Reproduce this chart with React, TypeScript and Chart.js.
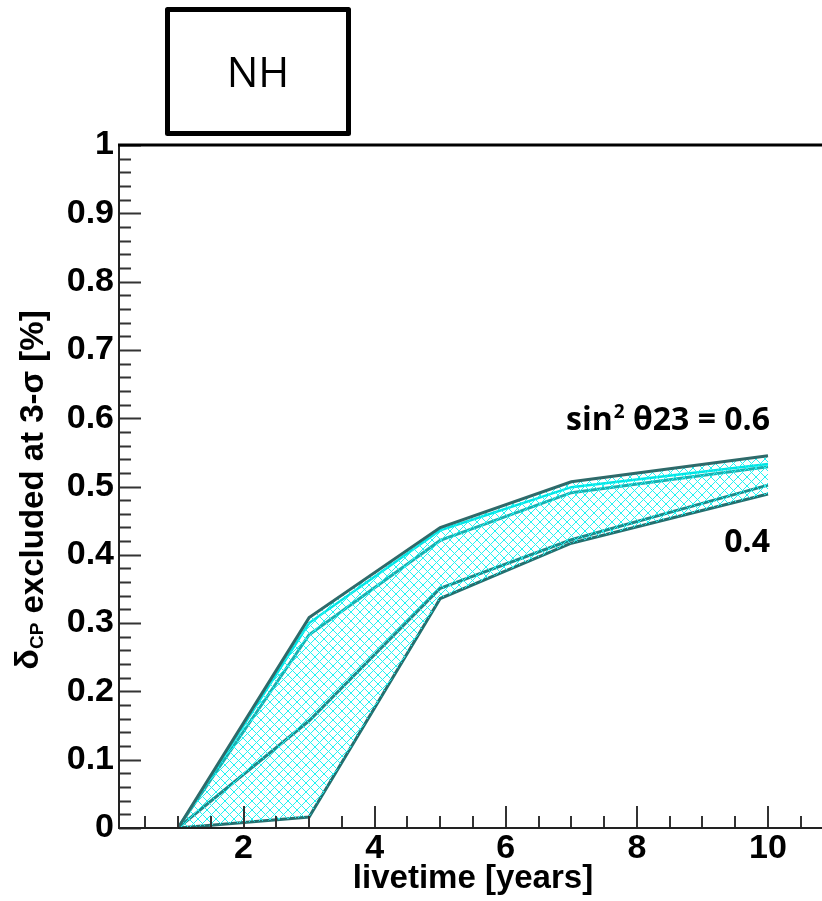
import React, { useEffect, useRef } from 'react';
import { Chart, registerables } from 'chart.js';

Chart.register(...registerables);

// ---- data ----
const livetime = [1, 3, 5, 7, 10];
const upperOuter = [0, 0.308, 0.44, 0.507, 0.545];
const upperBright = [0, 0.300, 0.436, 0.499, 0.533];
const upperInner = [0, 0.283, 0.421, 0.491, 0.529];
const lowerInner = [0, 0.157, 0.351, 0.422, 0.502];
const lowerOuter = [0, 0.016, 0.336, 0.417, 0.489];

const xTickValues = [2, 4, 6, 8, 10];
const yTickValues = [0, 0.1, 0.2, 0.3, 0.4, 0.5, 0.6, 0.7, 0.8, 0.9, 1];
const xTitle = 'livetime [years]';
const yTitleMain = 'δ';
const yTitleSub = 'CP';
const yTitleRest = ' excluded at 3-σ [%]';
const boxLabel = 'NH';
const upperLabelA = 'sin';
const upperLabelSup = '2';
const upperLabelB = ' θ23 = 0.6';
const lowerLabel = '0.4';

const AXIS_FONT = "'Liberation Sans', Arial, sans-serif";
const LABEL_FONT = "'Open Sans', 'Noto Sans', sans-serif";

function pts(arr: number[]) {
  return livetime.map((x, i) => ({ x, y: arr[i] }));
}

const decorPlugin = {
  id: 'decor',
  afterDraw(chart: any) {
    const { ctx, chartArea, scales } = chart;
    const xs = scales.x;
    const ys = scales.y;
    const L = chartArea.left;
    const B = chartArea.bottom;
    const T = chartArea.top;
    ctx.save();

    // ticks
    ctx.strokeStyle = '#333';
    ctx.lineWidth = 2;
    ctx.beginPath();
    for (let i = 0; i <= 50; i++) {
      const v = i / 50;
      const py = Math.round(ys.getPixelForValue(v)) + 0.5;
      const len = i % 5 === 0 ? 22 : 12;
      ctx.moveTo(L, py);
      ctx.lineTo(L + len, py);
    }
    for (let i = 1; i <= 21; i++) {
      const v = i * 0.5;
      const px = Math.round(xs.getPixelForValue(v));
      const len = i % 4 === 0 ? 22 : 12;
      ctx.moveTo(px, B);
      ctx.lineTo(px, B - len);
    }
    ctx.stroke();

    // axis lines
    ctx.strokeStyle = '#222';
    ctx.lineWidth = 2;
    ctx.beginPath();
    ctx.moveTo(L, T);
    ctx.lineTo(L, B);
    ctx.lineTo(chart.width, B);
    ctx.stroke();
    ctx.strokeStyle = '#000';
    ctx.lineWidth = 3;
    ctx.beginPath();
    ctx.moveTo(L - 1, T);
    ctx.lineTo(chart.width, T);
    ctx.stroke();

    // NH box
    ctx.lineWidth = 5;
    ctx.strokeStyle = '#000';
    ctx.lineJoin = 'round';
    ctx.strokeRect(167.5, 9.5, 181, 124);
    ctx.fillStyle = '#000';
    ctx.font = `400 42px ${LABEL_FONT}`;
    ctx.textAlign = 'center';
    ctx.textBaseline = 'alphabetic';
    ctx.fillText(boxLabel, 258, 87);

    // series labels
    ctx.font = `700 32px ${LABEL_FONT}`;
    ctx.textAlign = 'left';
    const wA = ctx.measureText(upperLabelA).width;
    const wB = ctx.measureText(upperLabelB).width;
    ctx.font = `700 19px ${LABEL_FONT}`;
    const wS = ctx.measureText(upperLabelSup).width;
    const right = 770;
    const startX = right - (wA + wS + 1 + wB);
    const baseY = 430;
    ctx.font = `700 32px ${LABEL_FONT}`;
    ctx.fillText(upperLabelA, startX, baseY);
    ctx.font = `700 19px ${LABEL_FONT}`;
    ctx.fillText(upperLabelSup, startX + wA + 1, baseY - 12);
    ctx.font = `700 32px ${LABEL_FONT}`;
    ctx.fillText(upperLabelB, startX + wA + wS + 1, baseY);
    ctx.textAlign = 'right';
    ctx.fillText(lowerLabel, right, 552);

    // y title (rotated, with subscript)
    ctx.translate(43, 490);
    ctx.rotate(-Math.PI / 2);
    ctx.textAlign = 'left';
    ctx.font = `700 34px ${AXIS_FONT}`;
    const wd = ctx.measureText(yTitleMain).width;
    ctx.font = `700 19px ${AXIS_FONT}`;
    const wc = ctx.measureText(yTitleSub).width;
    ctx.font = `700 33px ${AXIS_FONT}`;
    const wr = ctx.measureText(yTitleRest).width;
    let tx = -(wd + wc + wr) / 2;
    ctx.font = `700 34px ${AXIS_FONT}`;
    ctx.fillText(yTitleMain, tx, -5);
    tx += wd;
    ctx.font = `700 19px ${AXIS_FONT}`;
    ctx.fillText(yTitleSub, tx, 0);
    tx += wc;
    ctx.font = `700 33px ${AXIS_FONT}`;
    ctx.fillText(yTitleRest, tx, 0);

    ctx.restore();
  },
};

export default function App() {
  const canvasRef = useRef<HTMLCanvasElement | null>(null);

  useEffect(() => {
    const canvas = canvasRef.current;
    if (!canvas) return;
    const mainCtx = canvas.getContext('2d')!;
    const N = 9;
    const tile = document.createElement('canvas');
    tile.width = N;
    tile.height = N;
    const g = tile.getContext('2d')!;
    g.fillStyle = '#22F2F2';
    for (let i = 0; i < N; i++) {
      g.fillRect(i, i, 1, 1);
      g.fillRect(N - 1 - i, i, 1, 1);
    }
    const hatch = mainCtx.createPattern(tile, 'repeat');

    const lineDs = (label: string, arr: number[], color: string, width: number, extra: any = {}) => ({
      label,
      data: pts(arr),
      borderColor: color,
      borderWidth: width,
      pointRadius: 0,
      tension: 0,
      fill: false,
      ...extra,
    });

    const chart = new Chart(canvas, {
      type: 'line',
      data: {
        datasets: [
          lineDs('upper outer', upperOuter, '#2E6A6A', 3, { fill: 4, backgroundColor: hatch }),
          lineDs('upper bright', upperBright, '#00E6E6', 2.5),
          lineDs('upper inner', upperInner, '#1BB0B0', 3),
          lineDs('lower inner', lowerInner, '#1E8A8A', 3),
          lineDs('lower outer', lowerOuter, '#237070', 3),
        ],
      },
      options: {
        responsive: false,
        devicePixelRatio: 1,
        animation: false,
        layout: { padding: { top: 145, left: 0, right: 13, bottom: 0 } },
        plugins: {
          legend: { display: false },
          tooltip: { enabled: false },
        },
        scales: {
          x: {
            type: 'linear',
            min: 0.1,
            max: 10.9,
            grid: { display: false, drawTicks: false },
            border: { display: false },
            afterBuildTicks: (s: any) => {
              s.ticks = xTickValues.map((v) => ({ value: v }));
            },
            afterFit: (s: any) => {
              s.height = 73;
            },
            ticks: {
              autoSkip: false,
              maxRotation: 0,
              padding: 0,
              color: '#000',
              font: { family: AXIS_FONT, weight: 'bold', size: 34 },
              callback: (v: any) => String(v),
            },
            title: {
              display: true,
              text: xTitle,
              color: '#000',
              font: { family: AXIS_FONT, weight: 'bold', size: 33 },
              padding: { top: 0, bottom: 2 },
            },
          },
          y: {
            type: 'linear',
            min: 0,
            max: 1,
            grid: { display: false, drawTicks: false },
            border: { display: false },
            afterBuildTicks: (s: any) => {
              s.ticks = yTickValues.map((v) => ({ value: v }));
            },
            afterFit: (s: any) => {
              s.width = 119;
            },
            ticks: {
              autoSkip: false,
              padding: 5,
              color: '#000',
              font: { family: AXIS_FONT, weight: 'bold', size: 34 },
              callback: (v: any) => String(Math.round(Number(v) * 10) / 10),
            },
          },
        },
      },
      plugins: [decorPlugin],
    } as any);

    return () => chart.destroy();
  }, []);

  return (
    <div style={{ position: 'fixed', left: 0, top: 0, width: 822, height: 901, overflow: 'hidden', background: '#fff' }}>
      <canvas ref={canvasRef} width={840} height={901} style={{ display: 'block', width: 840, height: 901 }} />
    </div>
  );
}
